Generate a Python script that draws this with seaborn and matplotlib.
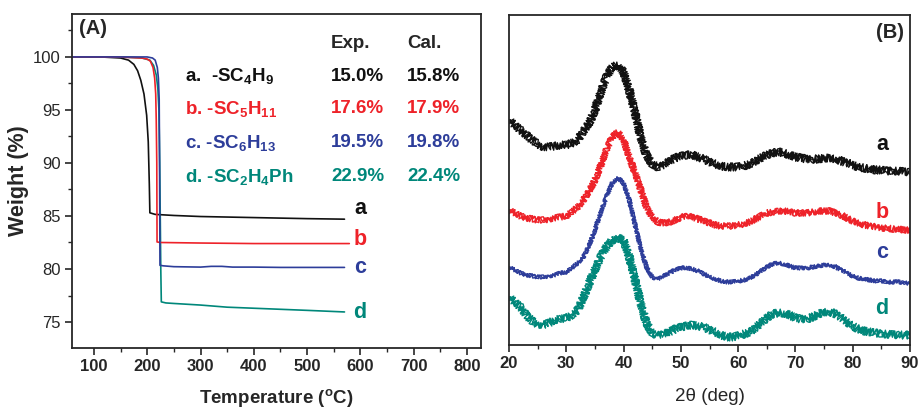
import numpy as np
import pandas as pd
import matplotlib
matplotlib.use("Agg")
import matplotlib.pyplot as plt
from matplotlib.ticker import MultipleLocator
import seaborn as sns

# ---------------- data ----------------
# (A) TGA curves: temperature (°C) / weight (%)
tga_a_T = [58, 120, 150, 165, 175, 182, 188, 194, 199, 202, 204, 205, 215, 250, 300, 400, 500, 570]
tga_a_W = [100.0, 99.98, 99.9, 99.7, 99.3, 98.7, 97.8, 96.5, 94.5, 92.0, 88.0, 85.3, 85.15, 85.05, 84.95, 84.85, 84.75, 84.7]
tga_b_T = [58, 150, 190, 200, 206, 211, 214, 216, 217, 218, 218.5, 225, 300, 400, 500, 579]
tga_b_W = [100.0, 99.99, 99.9, 99.8, 99.6, 99.0, 98.0, 96.5, 94.0, 90.0, 82.55, 82.5, 82.45, 82.4, 82.4, 82.4]
tga_c_T = [58, 150, 200, 210, 215, 219, 221, 222.5, 223, 224, 230, 250, 300, 320, 340, 360, 400, 450, 500, 570]
tga_c_W = [100.0, 100.0, 100.0, 99.9, 99.7, 99.0, 98.0, 96.0, 92.0, 80.35, 80.3, 80.22, 80.18, 80.25, 80.25, 80.18, 80.18, 80.15, 80.15, 80.15]
tga_d_T = [58, 150, 190, 205, 212, 217, 220, 222, 223.5, 224.5, 225.5, 226.5, 235, 250, 300, 350, 400, 450, 500, 570]
tga_d_W = [100.0, 100.0, 99.9, 99.7, 99.2, 98.3, 97.0, 95.0, 90.0, 85.0, 80.0, 76.9, 76.8, 76.75, 76.6, 76.4, 76.3, 76.2, 76.1, 75.95]

# (B) XRD patterns, stacked intensities (a.u.) at 2θ = 20..90°
two_theta = list(range(20, 91))
xrd_a = [225, 220, 215, 210, 205, 201, 198, 198, 199, 200, 200,
         202, 205, 214, 222, 235, 252, 268, 278, 280, 273,
         255, 232, 208, 190, 181, 178, 180, 184, 187, 189,
         190, 190, 188, 186, 183, 181, 179, 178, 178, 178,
         179, 181, 184, 187, 190, 192, 193, 192, 190, 188,
         187, 186, 186, 186, 187, 187, 186, 184, 182, 180,
         178, 177, 176, 175, 175, 174, 174, 174, 173, 173]
xrd_b = [135, 132, 129, 127, 126, 125, 125, 126, 127, 128, 129,
         133, 138, 145, 154, 165, 179, 195, 208, 213, 205,
         188, 172, 155, 138, 128, 123, 122, 123, 125, 128,
         129, 128, 126, 124, 122, 120, 119, 119, 119, 120,
         121, 123, 126, 129, 132, 133, 134, 134, 133, 132,
         132, 132, 133, 134, 134, 134, 132, 130, 127, 124,
         122, 120, 119, 118, 117, 117, 116, 116, 115, 115]
xrd_c = [78, 75, 72, 70, 69, 68, 68, 69, 70, 72, 73,
         77, 82, 88, 100, 115, 132, 148, 162, 167, 162,
         145, 120, 97, 78, 68, 66, 69, 72, 75, 77,
         77, 76, 74, 71, 68, 66, 64, 63, 63, 64,
         65, 67, 70, 74, 78, 81, 82, 81, 79, 77,
         77, 77, 78, 79, 80, 80, 78, 75, 72, 69,
         67, 66, 65, 64, 64, 63, 63, 63, 62, 62]
xrd_d = [48, 43, 38, 30, 24, 21, 20, 22, 25, 26, 27,
         30, 35, 48, 62, 75, 88, 98, 105, 107, 105,
         88, 65, 42, 22, 12, 10, 11, 13, 16, 18,
         19, 20, 19, 18, 15, 13, 10, 8, 8, 9,
         11, 13, 17, 22, 27, 31, 32, 32, 30, 27,
         26, 26, 28, 31, 33, 33, 31, 27, 23, 19,
         16, 14, 13, 12, 11, 11, 10, 10, 10, 10]

samples = ["a", "b", "c", "d"]
ligands = ["a.  -SC$_4$H$_9$", "b. -SC$_5$H$_{11}$", "c. -SC$_6$H$_{13}$", "d. -SC$_2$H$_4$Ph"]
exp_pct = ["15.0%", "17.6%", "19.5%", "22.9%"]
cal_pct = ["15.8%", "17.9%", "19.8%", "22.4%"]
colors = {"a": "#111111", "b": "#EE2229", "c": "#2D3D9A", "d": "#00877A"}

# ---------------- style ----------------
sns.set_theme(style="ticks")
plt.rcParams["font.family"] = ["Liberation Sans", "DejaVu Sans"]
plt.rcParams["mathtext.fontset"] = "custom"
plt.rcParams["mathtext.rm"] = "Liberation Sans:bold"
plt.rcParams["mathtext.bf"] = "Liberation Sans:bold"
plt.rcParams["mathtext.default"] = "bf"
plt.rcParams["axes.linewidth"] = 1.3
plt.rcParams["xtick.major.width"] = 1.2
plt.rcParams["ytick.major.width"] = 1.2
plt.rcParams["xtick.minor.width"] = 1.0
plt.rcParams["ytick.minor.width"] = 1.0

fig = plt.figure(figsize=(9.18, 4.12), dpi=100)
ax1 = fig.add_axes([72 / 918, 1 - 348 / 412, 409 / 918, 334 / 412])
ax2 = fig.add_axes([509 / 918, 1 - 345 / 412, 401 / 918, 330 / 412])

# ---------------- (A) TGA ----------------
tga = pd.concat([
    pd.DataFrame({"T": tga_a_T, "W": tga_a_W, "s": "a"}),
    pd.DataFrame({"T": tga_b_T, "W": tga_b_W, "s": "b"}),
    pd.DataFrame({"T": tga_c_T, "W": tga_c_W, "s": "c"}),
    pd.DataFrame({"T": tga_d_T, "W": tga_d_W, "s": "d"}),
], ignore_index=True)
sns.lineplot(data=tga, x="T", y="W", hue="s", hue_order=["d", "a", "b", "c"],
             palette=colors, estimator=None, sort=False, legend=False,
             linewidth=1.2, ax=ax1)

ax1.set_xlim(59, 826)
ax1.set_ylim(72.55, 104.05)
ax1.xaxis.set_major_locator(MultipleLocator(100))
ax1.xaxis.set_minor_locator(MultipleLocator(50))
ax1.yaxis.set_major_locator(MultipleLocator(5))
ax1.yaxis.set_minor_locator(MultipleLocator(2.5))
ax1.tick_params(which="major", direction="out", length=5, labelsize=12, pad=3)
ax1.tick_params(which="minor", direction="out", length=3)
for lab in ax1.get_xticklabels():
    lab.set_fontweight("bold")
ax1.set_xlabel("Temperature ($^{\\mathregular{o}}$C)", fontsize=13.5, fontweight="bold", labelpad=9)
ax1.set_ylabel("Weight (%)", fontsize=15.5, fontweight="bold", labelpad=3)
for sp in ax1.spines.values():
    sp.set_visible(True)

ax1.text(72, 102.7, "(A)", fontsize=14.5, fontweight="bold", va="center", ha="left")
ax1.text(545, 101.3, "Exp.", fontsize=13.5, fontweight="bold", va="center", ha="left")
ax1.text(687, 101.3, "Cal.", fontsize=13.5, fontweight="bold", va="center", ha="left")
row_w = [98.2, 95.1, 91.9, 88.7]
for s, lig, e, c, w in zip(samples, ligands, exp_pct, cal_pct, row_w):
    ax1.text(271, w, lig, color=colors[s], fontsize=13.5, fontweight="bold", va="center", ha="left")
    ax1.text(545, w, e, color=colors[s], fontsize=13.5, fontweight="bold", va="center", ha="left")
    ax1.text(687, w, c, color=colors[s], fontsize=13.5, fontweight="bold", va="center", ha="left")

end_w = [85.75, 82.8, 80.1, 75.9]
for s, w in zip(samples, end_w):
    ax1.text(599, w, s, color=colors[s], fontsize=15.5, fontweight="bold", va="center", ha="center")

# ---------------- (B) XRD ----------------
xrd = pd.concat([
    pd.DataFrame({"tt": two_theta, "I": xrd_a, "s": "a"}),
    pd.DataFrame({"tt": two_theta, "I": xrd_b, "s": "b"}),
    pd.DataFrame({"tt": two_theta, "I": xrd_c, "s": "c"}),
    pd.DataFrame({"tt": two_theta, "I": xrd_d, "s": "d"}),
], ignore_index=True)
# each pattern is stroked a few times with a fine sketch texture,
# giving the dense counting-noise band of a measured diffractogram
noise_scale = [4.0, 3.2, 2.0, 4.0]
for k, length in enumerate([0.35, 0.55, 0.9]):
    n0 = len(ax2.get_lines())
    sns.lineplot(data=xrd, x="tt", y="I", hue="s", hue_order=samples,
                 palette=colors, estimator=None, legend=False,
                 linewidth=1.0, ax=ax2)
    for line, sc in zip(ax2.get_lines()[n0:], noise_scale):
        line.set_sketch_params(scale=sc, length=length, randomness=3 + k)

ax2.set_xlim(20, 90)
ax2.set_ylim(0, 330)
ax2.xaxis.set_major_locator(MultipleLocator(10))
ax2.xaxis.set_minor_locator(MultipleLocator(5))
ax2.set_yticks([])
ax2.tick_params(axis="x", which="major", direction="out", length=5, labelsize=12, pad=3)
ax2.tick_params(axis="x", which="minor", direction="out", length=3)
for lab in ax2.get_xticklabels():
    lab.set_fontweight("bold")
ax2.set_xlabel("2θ (deg)", fontsize=13.5, labelpad=12)
ax2.set_ylabel("")
for sp in ax2.spines.values():
    sp.set_visible(True)

ax2.text(89, 313, "(B)", fontsize=14.5, fontweight="bold", va="center", ha="right")
lab_i = [200, 133, 92, 37]
for s, i in zip(samples, lab_i):
    ax2.text(85.1, i, s, color=colors[s], fontsize=15.5, fontweight="bold", va="center", ha="center")

fig.savefig("out.png", dpi=100)
